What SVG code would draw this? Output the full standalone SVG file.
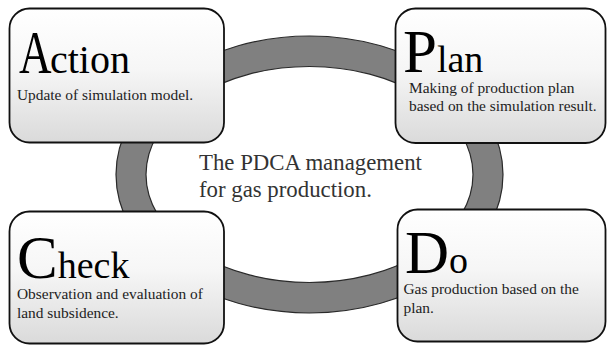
<svg xmlns="http://www.w3.org/2000/svg" width="608" height="346" viewBox="0 0 608 346" font-family="'Liberation Serif', 'Times New Roman', serif">
  <style>
    .stage-box { fill: url(#boxFill); stroke: #111; stroke-width: 1.8; }
    .stage-head { fill: #000; font-family: 'Liberation Serif', serif; }
    .initial { font-size: 61px; }
    .tail { font-size: 38px; }
    .stage-note { font-size: 15.4px; fill: #222; font-family: 'Liberation Serif', serif; }
    .centre-caption { font-size: 22.8px; fill: #333; font-family: 'Liberation Serif', serif; }
    .cycle { fill: #808080; stroke: #2a2a2a; stroke-width: 1.2; fill-rule: evenodd; }
  </style>
  <defs>
    <linearGradient id="boxFill" x1="0" y1="0" x2="0" y2="1">
      <stop offset="0" stop-color="#ffffff"/>
      <stop offset="0.45" stop-color="#f6f6f6"/>
      <stop offset="1" stop-color="#dadada"/>
    </linearGradient>
  </defs>
  <rect width="608" height="346" fill="#ffffff"/>

  <!-- cycle ring joining the four stages -->
  <g id="connectors">
    <path class="cycle" d="M116,174.5 a193.5,138.5 0 1,0 387,0 a193.5,138.5 0 1,0 -387,0 Z M146,174.5 a163.5,108 0 1,0 327,0 a163.5,108 0 1,0 -327,0 Z"/>
  </g>

  <g id="action">
    <rect class="stage-box" x="9.5" y="8.5" width="214.5" height="134" rx="20" ry="20"/>
    <!-- narrow capital A, then the rest of the word -->
    <text class="stage-head initial" transform="translate(19,72.5) scale(0.74,1)">A</text>
    <text class="stage-head" x="50" y="72.5" font-size="40">ction</text>
    <text class="stage-note" x="17" y="100">Update of simulation model.</text>
  </g>

  <g id="plan">
    <rect class="stage-box" x="395.5" y="8.5" width="210" height="134.5" rx="20" ry="20"/>
    <text class="stage-head" x="403" y="71.5"><tspan class="initial">P</tspan><tspan class="tail">lan</tspan></text>
    <text class="stage-note" x="409" y="92.5">Making of production plan</text>
    <text class="stage-note" x="409" y="110.5">based on the simulation result.</text>
  </g>

  <g id="check">
    <rect class="stage-box" x="9.5" y="211.5" width="214.5" height="132" rx="20" ry="20"/>
    <text class="stage-head" x="17" y="277.5"><tspan class="initial">C</tspan><tspan class="tail">heck</tspan></text>
    <text class="stage-note" x="17" y="299">Observation and evaluation of</text>
    <text class="stage-note" x="17" y="318">land subsidence.</text>
  </g>

  <g id="do">
    <rect class="stage-box" x="397.5" y="209.5" width="208" height="132" rx="20" ry="20"/>
    <text class="stage-head" x="405" y="272.5"><tspan class="initial">D</tspan><tspan class="tail">o</tspan></text>
    <text class="stage-note" x="403.5" y="294">Gas production based on the</text>
    <text class="stage-note" x="403.5" y="312.5">plan.</text>
  </g>

  <g id="title">
    <text class="centre-caption" x="199" y="170">The PDCA management</text>
    <text class="centre-caption" x="199" y="196.5">for gas production.</text>
  </g>
</svg>
